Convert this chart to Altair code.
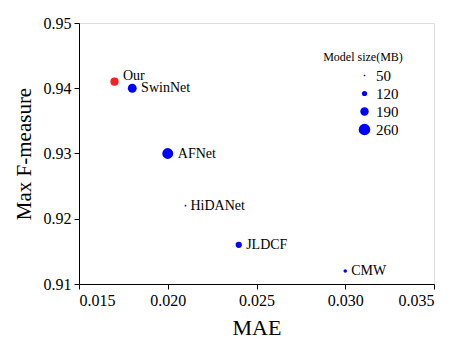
import altair as alt
import pandas as pd

names = ["Our", "SwinNet", "AFNet", "HiDANet", "JLDCF", "CMW"]
mae = [0.017, 0.018, 0.020, 0.021, 0.024, 0.030]
fmax = [0.941, 0.940, 0.930, 0.922, 0.916, 0.912]
size_mb = [185, 199, 245, 50, 143, 85]
colors = ["#f52020", "#0000ff", "#0000ff", "#0000ff", "#0000ff", "#0000ff"]

legend_values = [50, 120, 190, 260]
x_ticks = [0.015, 0.020, 0.025, 0.030, 0.035]
y_ticks = [0.91, 0.92, 0.93, 0.94, 0.95]

df = pd.DataFrame({"name": names, "mae": mae, "f": fmax, "size": size_mb, "color": colors})

FONT = "Times New Roman, Liberation Serif, serif"
W, H = 355, 261

xscale = alt.Scale(domain=[0.015, 0.035], nice=False)
yscale = alt.Scale(domain=[0.91, 0.95], nice=False, zero=False)

x = alt.X("mae:Q", scale=xscale,
          axis=alt.Axis(title="MAE", values=x_ticks, format=".3f", grid=False,
                        domainColor="black", tickColor="black", tickSize=5,
                        labelFont=FONT, labelFontSize=16, labelColor="black",
                        titleFont=FONT, titleFontSize=22, titleFontWeight="normal",
                        titleColor="black", titlePadding=9, labelPadding=3))
y = alt.Y("f:Q", scale=yscale,
          axis=alt.Axis(title="Max F-measure", values=y_ticks, format=".2f", grid=False,
                        domainColor="black", tickColor="black", tickSize=5,
                        labelFont=FONT, labelFontSize=16, labelColor="black",
                        titleFont=FONT, titleFontSize=21, titleFontWeight="normal",
                        titleColor="black", titlePadding=9, labelPadding=3))

base = alt.Chart(df)

points = base.mark_circle(opacity=1).encode(
    x=x, y=y,
    color=alt.Color("color:N", scale=None),
    size=alt.Size("size:Q",
                  scale=alt.Scale(type="pow", exponent=2, domain=[50, 260], range=[3, 135]),
                  legend=alt.Legend(title=None, values=legend_values, orient="none",
                                    legendX=278, legendY=45, symbolType="circle",
                                    symbolFillColor="#0000ff", symbolStrokeColor="#0000ff",
                                    symbolStrokeWidth=0, symbolOpacity=1,
                                    labelFont=FONT, labelFontSize=15, labelColor="black",
                                    rowPadding=2, labelOffset=4)),
)

labels = base.transform_calculate(
    lx=f"datum.mae + ((0.052*datum.size - 0.6)/2 + 4) * 0.02 / {W}",
    ly=f"datum.f + (datum.name == 'Our' ? 6 : 0) * 0.04 / {H}",
).mark_text(align="left", baseline="middle", font=FONT, fontSize=14, color="black").encode(
    x=alt.X("lx:Q", scale=xscale),
    y=alt.Y("ly:Q", scale=yscale),
    text="name:N",
)

legend_title = alt.Chart(pd.DataFrame({"t": ["Model size(MB)"]})).mark_text(
    font=FONT, fontSize=12, color="black", align="center", baseline="middle"
).encode(text="t:N", x=alt.value(284), y=alt.value(34))

chart = alt.layer(points, labels, legend_title).properties(
    width=W, height=H,
    autosize=alt.AutoSizeParams(type="none"),
    padding={"left": 71, "top": 15, "right": 13, "bottom": 55},
).configure_view(stroke="black", strokeWidth=1).configure(background="white")

chart.save("out.html", embed_options={"renderer": "svg", "actions": False})
